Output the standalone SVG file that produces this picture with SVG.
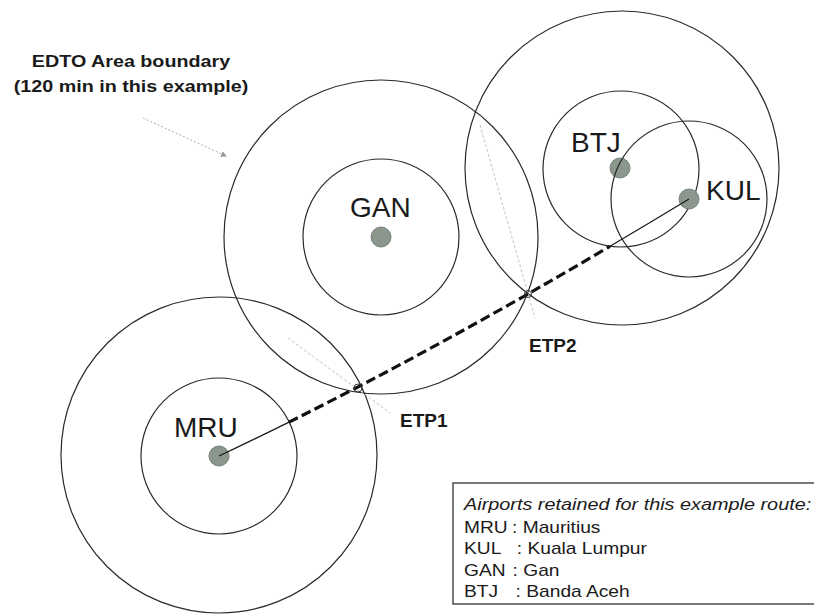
<svg xmlns="http://www.w3.org/2000/svg" width="814" height="615" viewBox="0 0 814 615">
<style>
.ring{fill:none;stroke:#2a2a2a;stroke-width:1.2}
.dot{fill:#8b978d;stroke:#76827a;stroke-width:1}
.big{font-family:"Liberation Sans",Arial,sans-serif;font-size:28px;fill:#1a1a1a}
.etp{font-family:"Liberation Sans",Arial,sans-serif;font-size:19px;font-weight:bold;fill:#1a1a1a}
.hdr{font-family:"Liberation Sans",Arial,sans-serif;font-size:17px;font-weight:bold;fill:#1a1a1a;text-anchor:middle}
.leg{font-family:"Liberation Sans",Arial,sans-serif;font-size:16px;fill:#1a1a1a}
.faint{fill:none;stroke:#c4c4c4;stroke-width:1;stroke-dasharray:3 2}
.thin{fill:none;stroke:#1a1a1a;stroke-width:1.3}
.dash{fill:none;stroke:#111;stroke-width:3.2;stroke-dasharray:10 4.5}
.etpmark{fill:none;stroke:#333;stroke-width:1}
</style>
<defs>
<marker id="arr" markerWidth="6" markerHeight="6" refX="5" refY="3" orient="auto" markerUnits="userSpaceOnUse">
<path d="M0,0 L6,3 L0,6 z" fill="#999"/>
</marker>
</defs>
<rect width="814" height="615" fill="#ffffff"/>

<g id="boundary-label">
<text class="hdr" transform="translate(131,67) scale(1.16,1)">EDTO Area boundary</text>
<text class="hdr" transform="translate(131,92) scale(1.16,1)">(120 min in this example)</text>
<line x1="143" y1="118" x2="226" y2="156" stroke="#aaa" stroke-width="1" stroke-dasharray="2 2" marker-end="url(#arr)"/>
</g>

<g id="MRU">
<circle class="ring" cx="219" cy="455" r="158"/>
<circle class="ring" cx="219" cy="456" r="78"/>
<circle class="dot" cx="219" cy="456" r="10"/>
<text class="big" x="174" y="437">MRU</text>
</g>

<g id="GAN">
<circle class="ring" cx="381" cy="237" r="157"/>
<circle class="ring" cx="381" cy="237" r="78"/>
<circle class="dot" cx="381" cy="237" r="10"/>
<text class="big" x="350" y="217">GAN</text>
</g>

<g id="BTJ">
<circle class="ring" cx="622" cy="168" r="157"/>
<circle class="ring" cx="621" cy="169" r="78"/>
<circle class="dot" cx="620" cy="168" r="10"/>
<text class="big" x="571" y="152">BTJ</text>
</g>

<g id="KUL">
<circle class="ring" cx="689" cy="199" r="78"/>
<circle class="dot" cx="689" cy="199" r="10"/>
<text class="big" x="706" y="200">KUL</text>
</g>

<g id="connectors">
<line class="faint" x1="288" y1="338" x2="390" y2="413"/>
<line class="faint" x1="480" y1="125" x2="535" y2="318"/>
<path class="thin" d="M219,456 Q253.3,439.8 289,422.1"/>
<path class="dash" d="M289,422.1 Q438.8,347.4 610,246.3"/>
<path class="thin" d="M610,246.3 Q649,223.3 689,199"/>
</g>

<g id="ETP1">
<circle class="etpmark" cx="358" cy="388" r="4"/>
<text class="etp" x="400" y="427">ETP1</text>
</g>

<g id="ETP2">
<circle class="etpmark" cx="528" cy="294" r="3.5"/>
<text class="etp" x="529" y="352">ETP2</text>
</g>

<g id="legend">
<rect x="453" y="483" width="400" height="121" fill="#fff" stroke="#333" stroke-width="1.3"/>
<text class="leg" font-style="italic" transform="translate(464,510) scale(1.24,1)">Airports retained for this example route:</text>
<text class="leg" transform="translate(464,533) scale(1.2,1)"><tspan x="0">MRU</tspan><tspan x="40">: Mauritius</tspan></text>
<text class="leg" transform="translate(464,554) scale(1.2,1)"><tspan x="0">KUL</tspan><tspan x="44">: Kuala Lumpur</tspan></text>
<text class="leg" transform="translate(464,576) scale(1.2,1)"><tspan x="0">GAN</tspan><tspan x="40.5">: Gan</tspan></text>
<text class="leg" transform="translate(464,597) scale(1.2,1)"><tspan x="0">BTJ</tspan><tspan x="43">: Banda Aceh</tspan></text>
</g>
</svg>
